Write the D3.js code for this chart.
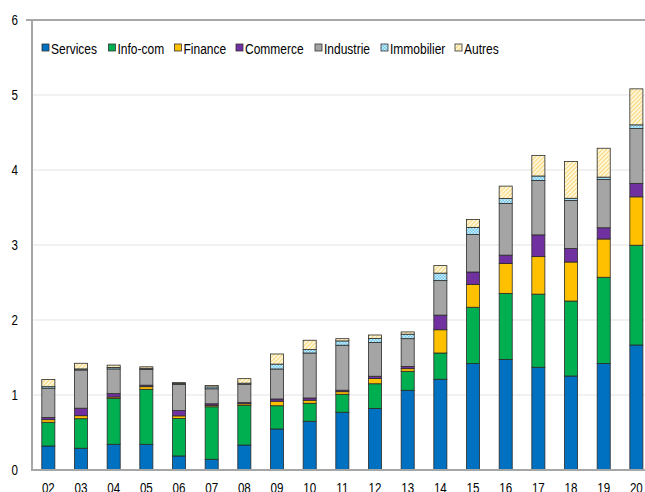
<!DOCTYPE html>
<html>
<head>
<meta charset="utf-8">
<script src="https://cdn.jsdelivr.net/npm/d3@7"></script>
<style>
  body { margin: 0; background: #fff; }
  text { font-family: Arial, "Liberation Sans", sans-serif; fill: #000; }
</style>
</head>
<body>
<svg id="chart"></svg>
<script>
const years = ['02','03','04','05','06','07','08','09','10','11','12','13','14','15','16','17','18','19','20'];
const seriesNames = ['Services','Info-com','Finance','Commerce','Industrie','Immobilier','Autres'];
const services   = [0.32,0.29,0.343,0.343,0.187,0.143,0.333,0.547,0.65,0.77,0.82,1.063,1.21,1.42,1.475,1.37,1.253,1.42,1.667];
const infocom    = [0.316,0.394,0.61,0.733,0.50,0.70,0.53,0.31,0.24,0.24,0.33,0.253,0.35,0.75,0.88,0.975,1.0,1.15,1.33];
const finance    = [0.035,0.04,0.02,0.035,0.035,0.02,0.02,0.06,0.04,0.034,0.07,0.035,0.31,0.305,0.40,0.50,0.52,0.51,0.645];
const commerce   = [0.03,0.10,0.045,0.02,0.07,0.02,0.015,0.03,0.03,0.02,0.03,0.03,0.195,0.165,0.11,0.29,0.18,0.15,0.18];
const industrie  = [0.39,0.51,0.33,0.21,0.35,0.20,0.245,0.40,0.60,0.60,0.45,0.37,0.46,0.50,0.69,0.725,0.64,0.645,0.73];
const immobilier = [0.02,0.014,0.02,0.015,0.01,0.025,0.015,0.065,0.045,0.057,0.055,0.06,0.10,0.095,0.065,0.06,0.03,0.03,0.05];
const autres     = [0.095,0.075,0.03,0.02,0.013,0.02,0.06,0.135,0.125,0.03,0.045,0.03,0.10,0.105,0.165,0.275,0.49,0.385,0.48];
const yTicks = [0,1,2,3,4,5,6];

const geom = { width: 645, height: 492, left: 32, top: 20, bottom: 470, right: 652.7 };
const sx = 0.8; // the original text is squeezed horizontally

const table = years.map((y, i) => ({
	year: y,
	'Services': services[i], 'Info-com': infocom[i], 'Finance': finance[i],
	'Commerce': commerce[i], 'Industrie': industrie[i], 'Immobilier': immobilier[i], 'Autres': autres[i]
}));

const svg = d3.select('#chart').attr('width', geom.width).attr('height', geom.height);

const defs = svg.append('defs');
const immo = defs.append('pattern').attr('id', 'pImmo').attr('patternUnits', 'userSpaceOnUse')
	.attr('width', 3).attr('height', 3);
immo.append('rect').attr('width', 3).attr('height', 3).attr('fill', '#d3f0fb');
immo.append('rect').attr('width', 1.5).attr('height', 1.5).attr('fill', '#6cc6ec');
immo.append('rect').attr('x', 1.5).attr('y', 1.5).attr('width', 1.5).attr('height', 1.5).attr('fill', '#6cc6ec');
const aut = defs.append('pattern').attr('id', 'pAutres').attr('patternUnits', 'userSpaceOnUse')
	.attr('width', 3).attr('height', 3).attr('patternTransform', 'rotate(45)');
aut.append('rect').attr('width', 3).attr('height', 3).attr('fill', '#fff8e0');
aut.append('rect').attr('width', 1.1).attr('height', 3).attr('fill', '#f9d777');

const fill = d3.scaleOrdinal()
	.domain(seriesNames)
	.range(['#0070c0','#00b050','#ffc000','#7030a0','#a5a5a5','url(#pImmo)','url(#pAutres)']);

const x = d3.scaleBand().domain(years).range([geom.left, geom.right]).paddingInner(0.6).paddingOuter(0.3);
const y = d3.scaleLinear().domain([0, 6]).range([geom.bottom, geom.top]);

// gridlines
svg.append('g').selectAll('line').data(yTicks.filter(t => t > 0 && t < 6)).enter()
	.append('line')
	.attr('x1', geom.left).attr('x2', geom.width)
	.attr('y1', d => y(d)).attr('y2', d => y(d))
	.attr('stroke', '#e3e3e3').attr('stroke-width', 1.2);

// top frame line
svg.append('line').attr('x1', 26).attr('x2', geom.width)
	.attr('y1', y(6)).attr('y2', y(6)).attr('stroke', '#505050').attr('stroke-width', 1.2);

// bars
const stack = d3.stack().keys(seriesNames)(table);
svg.append('g').selectAll('g').data(stack).enter()
	.append('g')
	.attr('fill', d => fill(d.key))
	.selectAll('rect').data(d => d).enter()
	.append('rect')
	.attr('x', d => x(d.data.year))
	.attr('width', x.bandwidth())
	.attr('y', d => y(d[1]))
	.attr('height', d => y(d[0]) - y(d[1]))
	.attr('stroke', '#2a2a2a').attr('stroke-width', 0.8);

// axes lines
svg.append('line').attr('x1', geom.left).attr('x2', geom.left)
	.attr('y1', geom.top).attr('y2', geom.bottom + 1)
	.attr('stroke', '#a6a6a6').attr('stroke-width', 2);
svg.append('line').attr('x1', geom.left).attr('x2', geom.width)
	.attr('y1', geom.bottom).attr('y2', geom.bottom)
	.attr('stroke', '#a6a6a6').attr('stroke-width', 2);

// y tick labels
svg.append('g').selectAll('text').data(yTicks).enter()
	.append('text')
	.attr('transform', d => 'translate(18,' + (y(d) + 5) + ') scale(' + sx + ',1)')
	.attr('text-anchor', 'end')
	.style('font-size', '14.5px')
	.text(d => d);

// x tick labels (cut by the bottom edge, as in the original)
svg.append('g').selectAll('text').data(years).enter()
	.append('text')
	.attr('transform', d => 'translate(' + (x(d) + x.bandwidth() / 2) + ',493) scale(' + sx + ',1)')
	.attr('text-anchor', 'middle')
	.style('font-size', '14.5px')
	.text(d => d);

// legend
const legendX = [42, 108.5, 174.5, 236, 315, 381, 455];
const legend = svg.append('g').selectAll('g').data(seriesNames).enter()
	.append('g')
	.attr('transform', (d, i) => 'translate(' + legendX[i] + ',44)');
legend.append('rect')
	.attr('width', 7).attr('height', 7)
	.attr('fill', d => fill(d))
	.attr('stroke', '#333').attr('stroke-width', 0.8);
legend.append('text')
	.attr('transform', 'translate(9,9.5) scale(' + sx + ',1)')
	.style('font-size', '15px')
	.text(d => d);
</script>
</body>
</html>
